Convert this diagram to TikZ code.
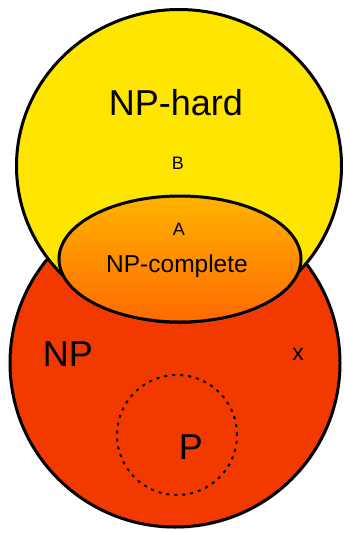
\documentclass[tikz,border=0pt]{standalone}
\usepackage{fontspec}
\setmainfont{Liberation Sans}
\usetikzlibrary{shapes.geometric,shadows}
\definecolor{npred}{HTML}{F23A00}
\definecolor{hardyellow}{HTML}{FFE600}
\definecolor{comptop}{HTML}{FFB300}
\definecolor{compbot}{HTML}{FF6A00}
\tikzset{
  setshape/.style={ellipse, draw=black, line width=3pt, inner sep=0pt,
    drop shadow={shadow xshift=1pt, shadow yshift=-2pt, opacity=0.25}},
  biglabel/.style={font=\fontsize{36}{36}\selectfont, inner sep=0pt},
  midlabel/.style={font=\fontsize{24.5}{24.5}\selectfont, inner sep=0pt},
  smalllabel/.style={font=\fontsize{18}{18}\selectfont, inner sep=0pt},
}
\begin{document}
\begin{tikzpicture}[x=1pt, y=-1pt]
  \useasboundingbox (0,0) rectangle (344,533);
  % NP (red disc), NP-hard (yellow) above it, NP-complete on top
  \node[setshape, fill=npred, minimum width=330pt, minimum height=328pt] (np) at (175,363) {};
  \node[setshape, fill=hardyellow, minimum width=325pt, minimum height=313pt] (hard) at (179,166) {};
  \node[setshape, top color=comptop, bottom color=compbot, minimum width=242pt, minimum height=126pt] (comp) at (180,259) {};
  % P as a dotted circle inside NP
  \node[circle, draw=black, line width=2pt, dash pattern=on 3pt off 5pt, minimum size=120pt, inner sep=0pt] (p) at (177,435) {};
  % labels
  \node[biglabel] (lhard) at (176,103) {NP-hard};
  \node[smalllabel] (lb) at (178,163) {B};
  \node[smalllabel] (la) at (179,229) {A};
  \node[midlabel] (lcomp) at (177,266) {NP-complete};
  \node[biglabel] (lnp) at (68,354) {NP};
  \node[font=\fontsize{23}{23}\selectfont, inner sep=0pt] (lx) at (298,354) {x};
  \node[biglabel] (lp) at (191,447) {P};
\end{tikzpicture}
\end{document}
